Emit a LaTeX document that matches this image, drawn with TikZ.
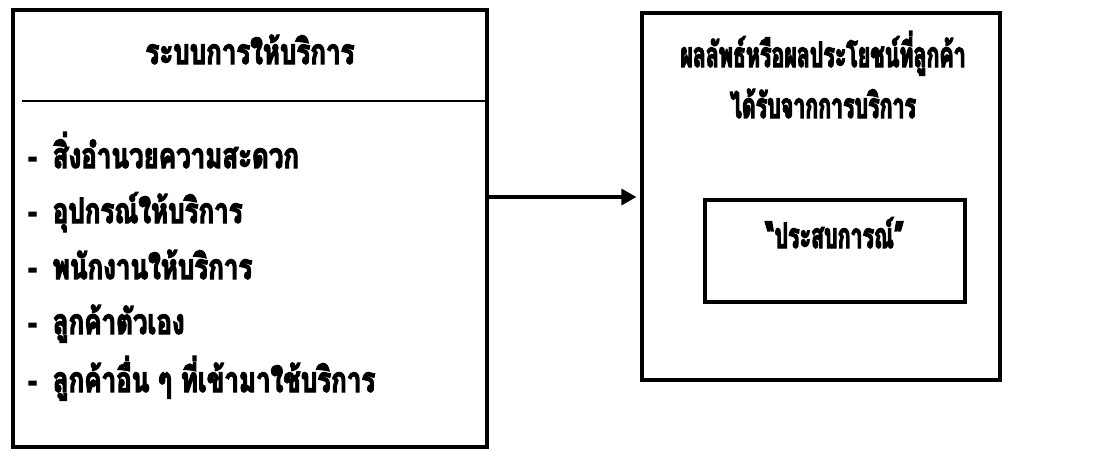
\documentclass[tikz,border=0pt]{standalone}
\usepackage{fontspec}
\newfontfamily\thaiL[Script=Thai,FakeStretch=0.74,FakeBold=3.5]{Loma}
\newfontfamily\thaiR[Script=Thai,FakeStretch=0.61,FakeBold=3.5]{Loma}
\usetikzlibrary{arrows.meta}
\begin{document}
\begin{tikzpicture}[x=1pt,y=-1pt,
  frame/.style={draw,line width=3.2pt,inner sep=0pt,rectangle},
  txt/.style={font=\thaiL\bfseries\fontsize{35}{40}\selectfont,inner sep=0pt},
  txtr/.style={font=\thaiR\bfseries\fontsize{35}{40}\selectfont,inner sep=0pt,anchor=base},
  item/.style={txt,anchor=base west},
  conn/.style={line width=3.2pt,-{Triangle[length=15pt,width=16pt]},shorten >=4pt}]
\useasboundingbox (0,0) rectangle (1115,450);
% left box: service system
\node[frame,minimum width=474pt,minimum height=437pt] (lbox) at (250,228.5) {};
\node[txt,anchor=base] (ltitle) at (250,64) {ระบบการให้บริการ};
\coordinate (divl) at (22,101);
\draw[line width=2.8pt] (divl) -- (divl -| lbox.east);
\node[item] (i1) at (28,168) {-\hspace{16pt}สิ่งอำนวยความสะดวก};
\node[item] (i2) at (28,223) {-\hspace{16pt}อุปกรณ์ให้บริการ};
\node[item] (i3) at (28,279) {-\hspace{16pt}พนักงานให้บริการ};
\node[item] (i4) at (28,334) {-\hspace{16pt}ลูกค้าตัวเอง};
\node[item] (i5) at (28,392) {-\hspace{16pt}ลูกค้าอื่น ๆ ที่เข้ามาใช้บริการ};
% right box: outcome for the customer
\node[frame,minimum width=358pt,minimum height=367pt] (rbox) at (821,196.5) {};
\node[txtr] (rt1) at (823,67) {ผลลัพธ์หรือผลประโยชน์ที่ลูกค้า};
\node[txtr] (rt2) at (823,118) {ได้รับจากการบริการ};
\node[frame,minimum width=260pt,minimum height=102pt] (exp) at (835,251) {};
\node[txtr] (expt) at (835,248) {“ประสบการณ์”};
% connector
\coordinate (ay) at (560,197);
\draw[conn] (lbox.east |- ay) -- (rbox.west |- ay);
\end{tikzpicture}
\end{document}
